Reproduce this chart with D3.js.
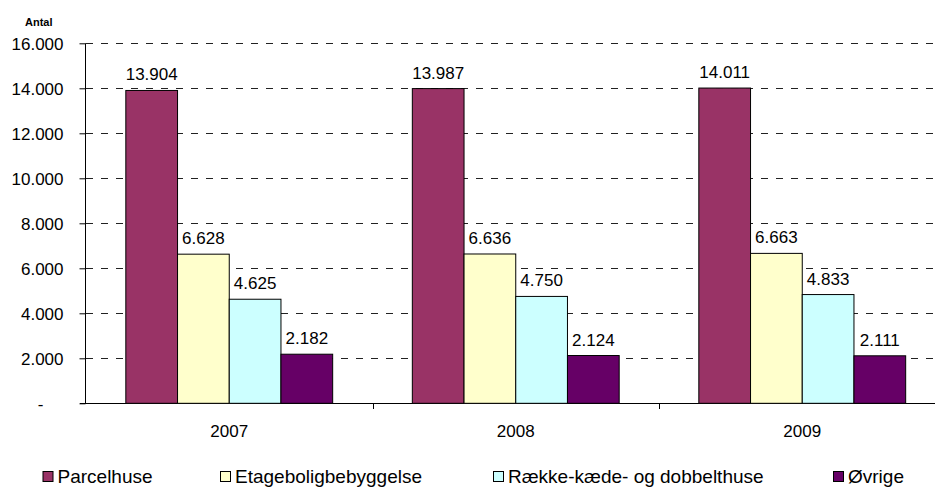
<!DOCTYPE html>
<html>
<head>
<meta charset="utf-8">
<script src="https://cdn.jsdelivr.net/npm/d3@7"></script>
<style>
  body { margin: 0; background: #fff; }
  text { font-family: "Liberation Sans", Arial, sans-serif; fill: #000; }
</style>
</head>
<body>
<div id="chart"></div>
<script>
// data
var years = ["2007", "2008", "2009"];
var seriesNames = ["Parcelhuse", "Etageboligbebyggelse", "Række-kæde- og dobbelthuse", "Øvrige"];
var seriesColors = ["#993366", "#FFFFCC", "#CCFFFF", "#660066"];
var parcelhuse = [13904, 13987, 14011];
var etagebolig = [6628, 6636, 6663];
var raekkehuse = [4625, 4750, 4833];
var oevrige = [2182, 2124, 2111];
var yTicks = [0, 2000, 4000, 6000, 8000, 10000, 12000, 14000, 16000];

var seriesValues = [parcelhuse, etagebolig, raekkehuse, oevrige];

var svgWidth = 935;
var svgHeight = 489;

var svg = d3.select("#chart")
  .append("svg")
  .attr("width", svgWidth)
  .attr("height", svgHeight);

// plot area
var plotLeft = 86, plotRight = 945.5, plotTop = 43.3, plotBottom = 403.3;

var x0 = d3.scaleBand()
  .domain(years)
  .range([plotLeft, plotRight])
  .padding(0);

var x1 = d3.scaleBand()
  .domain(seriesNames)
  .range([0, x0.bandwidth()])
  .paddingInner(0)
  .paddingOuter(0.77);

var y = d3.scaleLinear()
  .domain([0, 16000])
  .range([plotBottom, plotTop]);

var fmt = d3.formatLocale({ decimal: ",", thousands: ".", grouping: [3], currency: ["", " kr"] }).format(",d");

// gridlines
svg.append("g")
  .selectAll("line")
  .data(yTicks.filter(d => d > 0))
  .enter()
  .append("line")
  .attr("x1", plotLeft)
  .attr("x2", svgWidth)
  .attr("y1", d => Math.round(y(d)) + 0.5)
  .attr("y2", d => Math.round(y(d)) + 0.5)
  .attr("stroke", "#222")
  .attr("stroke-width", 1)
  .attr("stroke-dasharray", "7,8");

// y axis
var leftAxis = d3.axisLeft(y)
  .tickValues(yTicks)
  .tickSize(6)
  .tickPadding(16)
  .tickFormat(d => d === 0 ? "-" : fmt(d));

var yAxisG = svg.append("g")
  .attr("transform", "translate(" + (plotLeft - 0.5) + ",0)")
  .call(leftAxis);
yAxisG.select(".domain").remove();
yAxisG.selectAll(".tick line").attr("stroke", "#000");
yAxisG.append("line")
  .attr("x1", 0).attr("x2", 0)
  .attr("y1", y(16000)).attr("y2", y(0))
  .attr("stroke", "#000");
yAxisG.selectAll(".tick text")
  .style("font-size", "17px")
  .attr("font-family", null)
  .attr("dy", "0.36em")
  .filter(d => d === 0)
  .attr("dx", -20);

// x axis
svg.append("line")
  .attr("x1", plotLeft - 6)
  .attr("x2", svgWidth)
  .attr("y1", Math.round(plotBottom) + 0.5)
  .attr("y2", Math.round(plotBottom) + 0.5)
  .attr("stroke", "#000");

svg.append("g")
  .selectAll("line")
  .data(years.slice(1).concat(["end"]))
  .enter()
  .append("line")
  .attr("x1", (d, i) => Math.round(plotLeft + x0.step() * (i + 1)) + 0.5)
  .attr("x2", (d, i) => Math.round(plotLeft + x0.step() * (i + 1)) + 0.5)
  .attr("y1", Math.round(plotBottom))
  .attr("y2", Math.round(plotBottom) + 6)
  .attr("stroke", "#000");

svg.append("g")
  .selectAll("text")
  .data(years)
  .enter()
  .append("text")
  .attr("x", d => x0(d) + x0.bandwidth() / 2)
  .attr("y", 437)
  .attr("text-anchor", "middle")
  .style("font-size", "17px")
  .text(d => d);

// bars
var groups = svg.selectAll(".year")
  .data(years)
  .enter()
  .append("g")
  .attr("class", "year")
  .attr("transform", d => "translate(" + x0(d) + ",0)");

groups.selectAll("rect")
  .data((d, i) => seriesNames.map((s, j) => ({ name: s, value: seriesValues[j][i], color: seriesColors[j] })))
  .enter()
  .append("rect")
  .attr("x", d => x1(d.name))
  .attr("y", d => y(d.value))
  .attr("width", x1.bandwidth())
  .attr("height", d => y(0) - y(d.value))
  .attr("fill", d => d.color)
  .attr("stroke", "#000")
  .attr("stroke-width", 1);

groups.selectAll(".val")
  .data((d, i) => seriesNames.map((s, j) => ({ name: s, value: seriesValues[j][i] })))
  .enter()
  .append("text")
  .attr("class", "val")
  .attr("x", d => x1(d.name) + x1.bandwidth() / 2)
  .attr("y", d => y(d.value) - 10)
  .attr("text-anchor", "middle")
  .style("font-size", "17px")
  .text(d => fmt(d.value));

// y axis title
svg.append("text")
  .attr("x", 25)
  .attr("y", 26)
  .style("font-size", "11px")
  .style("font-weight", "bold")
  .text("Antal");

// legend
var legendX = [42.5, 220, 493, 833];
var legend = svg.selectAll(".legend")
  .data(seriesNames)
  .enter()
  .append("g")
  .attr("class", "legend")
  .attr("transform", (d, i) => "translate(" + legendX[i] + ",471)");

legend.append("rect")
  .attr("width", 10)
  .attr("height", 10)
  .attr("x", 0.5)
  .attr("y", 0.5)
  .attr("fill", (d, i) => seriesColors[i])
  .attr("stroke", "#000");

legend.append("text")
  .attr("x", 15)
  .attr("y", 12)
  .style("font-size", "19px")
  .text(d => d);
</script>
</body>
</html>
